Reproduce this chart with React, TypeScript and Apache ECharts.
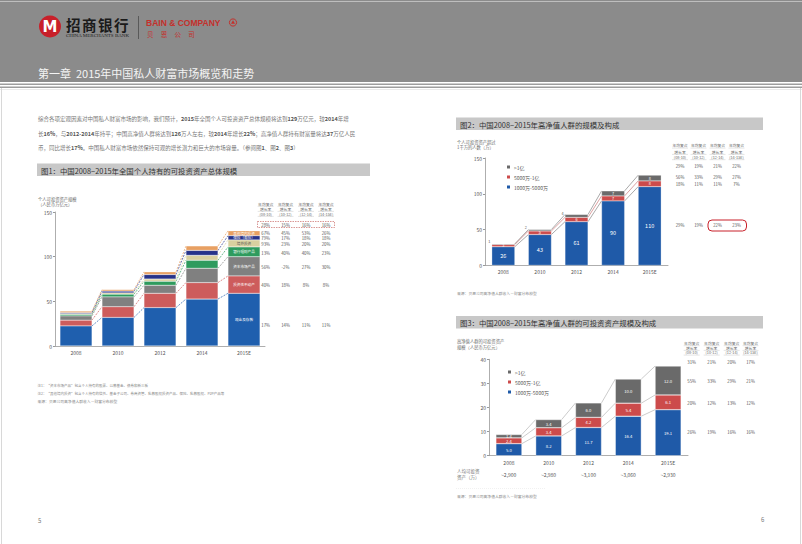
import React, { useEffect, useRef } from "react";
import * as echarts from "echarts";

// ---------- data ----------
const years = ["2008", "2010", "2012", "2014", "2015E"];
const periods = ["(08-10)", "(10-12)", "(12-14)", "(14-15E)"];

// Figure 1: personal investable assets (trillion RMB)
const c1Names = ["现金及存款", "投资性不动产", "资本市场产品", "银行理财产品", "境外投资", "保险（寿险）", "其他境内投资"];
const c1Cash = [22.5, 32, 43, 52.6, 59];
const c1Property = [6.5, 12, 16, 18.4, 19.4];
const c1Capital = [4.7, 11, 9, 16, 21.6];
const c1Wealth = [1.8, 3, 4.5, 9, 10.9];
const c1Overseas = [0.8, 1.5, 2.5, 5.5, 7.8];
const c1Insurance = [1.1, 2, 5, 5.5, 4.8];
const c1Other = [1.6, 1.5, 3, 5, 5.5];
const c1Totals = [39, 63, 83, 112, 129];
const c1Growth = [
  ["28%", "15%", "16%", "16%"],
  ["67%", "45%", "53%", "26%"],
  ["79%", "17%", "18%", "18%"],
  ["93%", "23%", "20%", "20%"],
  ["13%", "40%", "40%", "23%"],
  ["56%", "-2%", "27%", "30%"],
  ["40%", "18%", "8%", "8%"],
  ["17%", "14%", "11%", "11%"],
];

// Figure 2: HNWI population (10k people)
const tierNames = ["1000万-5000万", "5000万-1亿", ">1亿"];
const c2Base = [26, 43, 61, 90, 110];
const c2Mid = [3, 5, 6, 7, 8];
const c2Top = [1, 2, 4, 7, 8];
const c2Totals = [30, 50, 71, 104, 126];
const c2Growth = [
  ["29%", "19%", "21%", "22%"],
  ["56%", "33%", "29%", "27%"],
  ["18%", "11%", "11%", "7%"],
  ["29%", "19%", "22%", "23%"],
];

// Figure 3: HNWI investable assets (trillion RMB)
const c3Base = [5.0, 8.2, 11.7, 16.4, 19.1];
const c3Mid = [2.4, 3.4, 4.2, 5.4, 6.1];
const c3Top = [1.4, 3.4, 6.0, 10.0, 12.0];
const c3Totals = [8.8, 15.0, 21.9, 31.8, 37.2];
const c3PerCapita = ["~2,900", "~2,980", "~3,100", "~3,060", "~2,930"];
const c3Growth = [
  ["31%", "21%", "20%", "17%"],
  ["55%", "33%", "29%", "21%"],
  ["20%", "12%", "13%", "12%"],
  ["26%", "19%", "16%", "16%"],
];

// ---------- styles ----------
const F = "'Noto Sans CJK SC', 'Noto Sans', sans-serif";
const c1Colors = ["#1f5fae", "#cd5c5c", "#808080", "#2e9b5e", "#d9d0a0", "#27338a", "#e8a062"];
const c1LabelColors = ["#fff", "#fff", "#fff", "#fff", "#555", "#fff", "#fff"];
const tierColors = ["#1f5aa8", "#cc4b4b", "#6a6a6a"];
const RED = "#c4302b";

const txt = (x: number, y: number, text: string, size: number, fill: string, align = "left", weight = "normal"): any => ({
  type: "text", x, y, silent: true,
  style: { text, fill, fontSize: size, fontFamily: F, fontWeight: weight, textAlign: align, textVerticalAlign: "middle" },
});

function cumulative(list: number[][]): number[][] {
  const out: number[][] = [];
  list.forEach((s, k) => out.push(s.map((v, i) => v + (k > 0 ? out[k - 1][i] : 0))));
  return out;
}

function connectors(axis: number, list: number[][], colors: string[], half: number, dash: number[] | null, width: number): any {
  const tops = cumulative(list);
  const data: number[][] = [];
  tops.forEach((t, s) => {
    for (let i = 0; i < t.length - 1; i++) data.push([i, t[i], t[i + 1], s]);
  });
  return {
    type: "custom", xAxisIndex: axis, yAxisIndex: axis, silent: true, z: 1,
    encode: { x: 0, y: 1 },
    data,
    renderItem: (_p: any, api: any) => {
      const i = api.value(0) as number;
      const s = api.value(3) as number;
      const a = api.coord([i, api.value(1)]);
      const b = api.coord([i + 1, api.value(2)]);
      return {
        type: "line",
        shape: { x1: a[0] + half, y1: a[1], x2: b[0] - half, y2: b[1] },
        style: { stroke: colors[s], lineWidth: width, lineDash: dash || undefined },
      };
    },
  };
}

function totalsSeries(axis: number, totals: number[], fmt: (v: number) => string): any {
  return {
    type: "scatter", xAxisIndex: axis, yAxisIndex: axis, silent: true,
    symbolSize: 1, itemStyle: { opacity: 0 },
    data: totals.map((v, i) => [i, v]),
    label: { show: true, position: "top", distance: 1, fontSize: 5.5, color: "#333", fontFamily: F, formatter: (p: any) => fmt(p.value[1]) },
  };
}

function tableEls(xs: number[], headYs: number[], rowYs: number[], rows: string[][]): any[] {
  const els: any[] = [];
  xs.forEach((x, c) => {
    const heads = ["年均复合", "增长率", periods[c]];
    heads.forEach((h, k) => {
      els.push(txt(x, headYs[k], h, 3.8, "#666", "center"));
      els.push({ type: "line", silent: true, shape: { x1: x - 8, y1: headYs[k] + 2.4, x2: x + 8, y2: headYs[k] + 2.4 }, style: { stroke: "#bbb", lineWidth: 0.4 } });
    });
    rows.forEach((r, j) => els.push(txt(x, rowYs[j], r[c], 4.3, "#555", "center")));
  });
  return els;
}

const xAxisFor = (gi: number): any => ({
  type: "category", gridIndex: gi, data: years,
  axisLine: { lineStyle: { color: "#999", width: 0.8 } }, axisTick: { show: false },
  axisLabel: { fontSize: 5, color: "#555", margin: 4, fontFamily: F },
});

export default function App() {
  const ref = useRef<HTMLDivElement>(null);
  useEffect(() => {
    if (!ref.current) return;
    const chart = echarts.init(ref.current, undefined, { renderer: "svg" });

    const c1List = [c1Cash, c1Property, c1Capital, c1Wealth, c1Overseas, c1Insurance, c1Other];
    const c2List = [c2Base, c2Mid, c2Top];
    const c3List = [c3Base, c3Mid, c3Top];

    const yAxisBase = (gi: number, max: number, interval: number) => ({
      type: "value", gridIndex: gi, min: 0, max, interval,
      axisLine: { show: true, lineStyle: { color: "#999", width: 0.8 } },
      axisTick: { show: true, length: 2, lineStyle: { color: "#999" } },
      splitLine: { show: false },
      axisLabel: { fontSize: 5, color: "#555", margin: 3, fontFamily: F },
    });

    const series: any[] = [];
    c1List.forEach((d, k) => {
      series.push({
        type: "bar", name: c1Names[k], stack: "c1", xAxisIndex: 0, yAxisIndex: 0, barWidth: 32, z: 2,
        data: d, itemStyle: { color: c1Colors[k], borderColor: "#fff", borderWidth: 0.3 },
        label: {
          show: true, position: "inside", fontSize: 3.6, color: c1LabelColors[k], fontFamily: F,
          formatter: (p: any) => (p.dataIndex === years.length - 1 ? p.seriesName : ""),
        },
      });
    });
    series.push(connectors(0, c1List, c1Colors, 16, [2, 1.2], 0.7));
    series.push(totalsSeries(0, c1Totals, (v) => String(v)));

    c2List.forEach((d, k) => {
      const items = d.map((v) => {
        if (k === 2 && v < 5) {
          return { value: v, label: { position: "left", distance: 1.5, offset: [0, -2.5], color: "#555", fontSize: 3.8 } };
        }
        return v;
      });
      series.push({
        type: "bar", name: tierNames[k], stack: "c2", xAxisIndex: 1, yAxisIndex: 1, barWidth: 23, z: 2,
        data: items, itemStyle: { color: tierColors[k], borderColor: "#fff", borderWidth: 0.3 },
        label: { show: true, position: "inside", fontSize: k === 0 ? 5.5 : 3.8, color: "#fff", fontFamily: F },
      });
    });
    series.push(connectors(1, c2List, ["#555", "#b44", "#555"], 11.5, null, 0.5));
    series.push(totalsSeries(1, c2Totals, (v) => String(v)));

    c3List.forEach((d, k) => {
      series.push({
        type: "bar", name: tierNames[k], stack: "c3", xAxisIndex: 2, yAxisIndex: 2, barWidth: 26, z: 2,
        data: d, itemStyle: { color: tierColors[k], borderColor: "#fff", borderWidth: 0.4 },
        label: { show: true, position: "inside", fontSize: 4.2, color: "#fff", fontFamily: F, formatter: (p: any) => Number(p.value).toFixed(1) },
      });
    });
    series.push(connectors(2, c3List, ["#999", "#999", "#999"], 13, null, 0.5));
    series.push(totalsSeries(2, c3Totals, (v) => v.toFixed(1)));

    // ---------- page graphics ----------
    const g: any[] = [];
    // header
    g.push({ type: "rect", silent: true, shape: { x: 0, y: 0, width: 802, height: 82 }, style: { fill: "#8b8b8b" } });
    g.push({ type: "rect", silent: true, shape: { x: 0, y: 1, width: 802, height: 0.8 }, style: { fill: "#cfcfcf" } });
    g.push({ type: "rect", silent: true, shape: { x: 0, y: 83.6, width: 802, height: 1.4 }, style: { fill: "#9d9d9d" } });
    g.push({ type: "rect", silent: true, shape: { x: 0, y: 86.6, width: 802, height: 1.4 }, style: { fill: "#9d9d9d" } });
    g.push({ type: "rect", silent: true, shape: { x: 0, y: 89.2, width: 802, height: 0.5 }, style: { fill: "#d5d5d5" } });
    g.push({ type: "line", silent: true, shape: { x1: 1.5, y1: 88, x2: 1.5, y2: 544 }, style: { stroke: "#d8d8d8", lineWidth: 1 } });
    g.push({ type: "line", silent: true, shape: { x1: 800.5, y1: 88, x2: 800.5, y2: 544 }, style: { stroke: "#d8d8d8", lineWidth: 1 } });
    // logos
    g.push({ type: "circle", silent: true, shape: { cx: 50, cy: 26.5, r: 11 }, style: { fill: "#c8202a" } });
    g.push({ type: "text", silent: true, x: 50, y: 27, style: { text: "M", fill: "#fff", fontSize: 15, fontWeight: "bold", fontFamily: "'DejaVu Sans', sans-serif", textAlign: "center", textVerticalAlign: "middle" } });
    ["招", "商", "银", "行"].forEach((ch, i) => g.push(txt(66 + i * 16, 24, ch, 14.5, "#1a1a1a", "left", "bold")));
    g.push({ type: "text", silent: true, x: 66, y: 35.5, style: { text: "CHINA MERCHANTS BANK", fill: "#222", fontSize: 5, fontFamily: "'Liberation Serif', serif", textVerticalAlign: "middle" } });
    g.push({ type: "line", silent: true, shape: { x1: 138.5, y1: 16, x2: 138.5, y2: 39 }, style: { stroke: "#444", lineWidth: 0.7 } });
    g.push({ type: "text", silent: true, x: 146, y: 22.5, style: { text: "BAIN & COMPANY", fill: RED, fontSize: 8.5, fontWeight: "bold", fontFamily: "'Liberation Sans', sans-serif", textVerticalAlign: "middle" } });
    g.push({ type: "circle", silent: true, shape: { cx: 233, cy: 22.5, r: 3.6 }, style: { fill: "none", stroke: RED, lineWidth: 1 } });
    g.push({ type: "polygon", silent: true, shape: { points: [[233, 20.3], [235, 23.8], [231, 23.8]] }, style: { fill: RED } });
    g.push(txt(147, 34, "贝     恩     公     司", 6.5, RED));
    g.push(txt(38, 73, "第一章  2015年中国私人财富市场概览和走势", 11, "#f4f4f4"));

    // paragraph
    const rich = { b: { fontWeight: "bold", fontSize: 5.5, fill: "#555", fontFamily: F } };
    const para = [
      "综合各项宏观因素对中国私人财富市场的影响，我们预计，{b|2015}年全国个人可投资资产总体规模将达到{b|129}万亿元，较{b|2014}年增",
      "长{b|16%}，与{b|2012-2014}年持平；中国高净值人群将达到{b|126}万人左右，较{b|2014}年增长{b|22%}；高净值人群持有财富量将达{b|37}万亿人民",
      "币，同比增长{b|17%}。中国私人财富市场依然保持可观的增长潜力和巨大的市场容量。（参阅图{b|1}、图{b|2}、图{b|3}）",
    ];
    [119, 133.5, 148].forEach((y, i) => {
      g.push({ type: "text", silent: true, x: 38, y, style: { text: para[i], rich, fill: "#777", fontSize: 5.5, fontFamily: F, textVerticalAlign: "middle" } });
    });

    // title bars
    const titleBar = (x: number, y: number, w: number, t: string) => {
      g.push({ type: "rect", silent: true, shape: { x, y, width: w, height: 12.5 }, style: { fill: "#c8c8c8" } });
      g.push(txt(x + 4, y + 6.5, t, 7.4, "#333"));
    };
    titleBar(37, 163.5, 333, "图1：中国2008−2015年全国个人持有的可投资资产总体规模");
    titleBar(456, 117.5, 307, "图2：中国2008−2015年高净值人群的规模及构成");
    titleBar(456, 316, 307, "图3：中国2008−2015年高净值人群的可投资资产规模及构成");

    // axis titles
    g.push(txt(38, 199, "个人可投资资产规模", 4.3, "#666"));
    g.push(txt(38, 204, "（人民币万亿元）", 4.3, "#666"));
    g.push(txt(457, 141.5, "个人可投资资产超过", 4.3, "#666"));
    g.push(txt(457, 146.8, "1千万的人数（万）", 4.3, "#666"));
    g.push(txt(457, 340.7, "高净值人群的可投资资产", 4.3, "#666"));
    g.push(txt(457, 347.3, "规模（人民币万亿元）", 4.3, "#666"));

    // tables
    g.push(...tableEls([265.7, 285.5, 306, 326], [204, 209, 214], [224.5, 232.7, 237.8, 244, 253, 267.3, 285, 325], c1Growth));
    g.push({ type: "rect", silent: true, shape: { x: 257.5, y: 221.5, width: 77, height: 6 }, style: { fill: "none", stroke: "#c0504d", lineWidth: 0.6, lineDash: [1.5, 1] } });
    g.push(...tableEls([680, 698.5, 717.5, 736.5], [145.7, 152, 157.3], [166, 177.3, 183.7, 225], c2Growth));
    g.push({ type: "rect", silent: true, shape: { x: 708, y: 220, width: 38.5, height: 11, r: 4 }, style: { fill: "none", stroke: "#c8202a", lineWidth: 1 } });
    g.push(...tableEls([691.7, 711.7, 731.7, 750.5], [343.3, 348, 352.7], [362.3, 381, 402.7, 432.3], c3Growth));

    // per-capita row
    g.push(txt(457, 470.7, "人均可投资", 4.5, "#777"));
    g.push(txt(457, 476.7, "资产（万）", 4.5, "#777"));
    const c3Centers = [508.7, 548.5, 588.3, 628.2, 668];
    c3PerCapita.forEach((s, i) => g.push(txt(c3Centers[i], 474, s, 5, "#555", "center")));
    g.push({ type: "line", silent: true, shape: { x1: 456, y1: 488.5, x2: 545, y2: 488.5 }, style: { stroke: "#e2e2e2", lineWidth: 0.5, lineDash: [1, 1] } });

    // notes & sources
    g.push(txt(37.5, 385.7, "注1：“资本市场产品”包含个人持有的股票、公募基金、债券和新三板", 3.5, "#888"));
    g.push(txt(37.5, 393.7, "注2：“其他境内投资”包含个人持有的信托、基金子公司、券商资管、私募股权投资产品、保险、私募股权、P2P产品等", 3.5, "#888"));
    g.push(txt(37.5, 401, "来源：贝恩公司高净值人群收入－财富分布模型", 3.8, "#888"));
    g.push(txt(457, 293.3, "来源：贝恩公司高净值人群收入－财富分布模型", 3.8, "#888"));
    g.push(txt(457, 496.7, "来源：贝恩公司高净值人群收入－财富分布模型", 3.8, "#888"));
    g.push(txt(38, 520, "5", 6, "#777"));
    g.push(txt(761, 519, "6", 6, "#777"));

    const legendBase = {
      orient: "vertical", itemWidth: 5, itemHeight: 5, itemGap: 3, icon: "rect",
      data: [tierNames[2], tierNames[1], tierNames[0]],
      textStyle: { fontSize: 5, color: "#555", fontFamily: F, padding: [0, 0, 0, -2] },
      selectedMode: false,
    };

    chart.setOption({
      animation: false,
      backgroundColor: "#ffffff",
      textStyle: { fontFamily: F },
      grid: [
        { left: 55, top: 212, width: 210, height: 134 },
        { left: 485, top: 158, width: 183, height: 107.3 },
        { left: 489, top: 359.3, width: 199, height: 96.4 },
      ],
      xAxis: [xAxisFor(0), xAxisFor(1), xAxisFor(2)],
      yAxis: [yAxisBase(0, 150, 50), yAxisBase(1, 150, 50), yAxisBase(2, 40, 10)],
      legend: [
        { ...legendBase, left: 500, top: 158.5 },
        { ...legendBase, left: 501, top: 363.5 },
      ],
      graphic: { elements: g },
      series,
    });
    return () => chart.dispose();
  }, []);
  return <div ref={ref} style={{ position: "absolute", left: 0, top: 0, width: 802, height: 544, background: "#fff" }} />;
}
